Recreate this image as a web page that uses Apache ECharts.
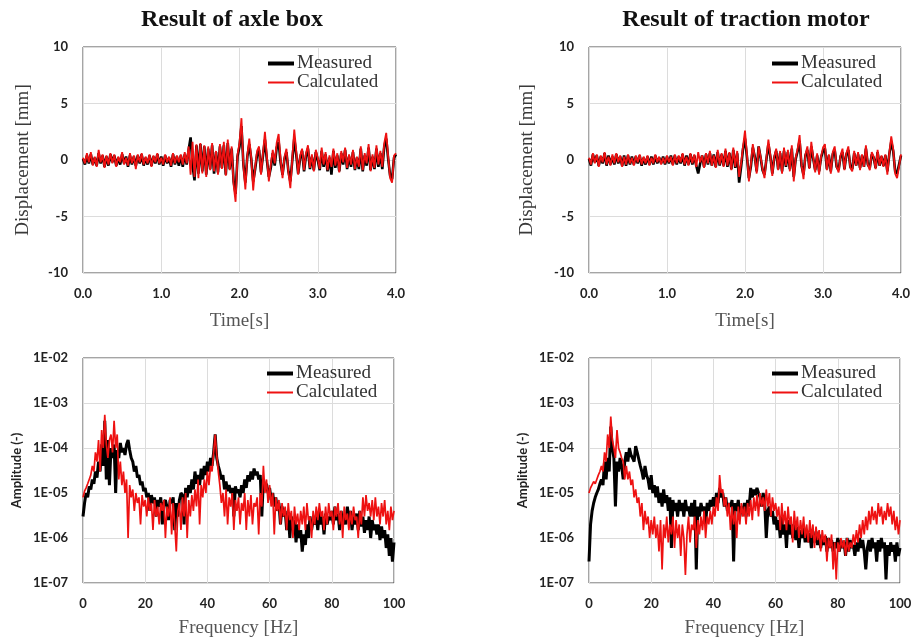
<!DOCTYPE html>
<html>
<head>
<meta charset="utf-8">
<script src="https://cdn.jsdelivr.net/npm/echarts@6/dist/echarts.min.js"></script>
<style>
html,body{margin:0;padding:0;background:#fff;}
#chart{width:916px;height:640px;}
</style>
</head>
<body>
<div id="chart"></div>
<script>
// ---- time axis (s) ----
const time = [
0,0.025,0.05,0.075,0.1,0.125,0.15,0.175,
0.2,0.225,0.25,0.275,0.3,0.325,0.35,0.375,
0.4,0.425,0.45,0.475,0.5,0.525,0.55,0.575,
0.6,0.625,0.65,0.675,0.7,0.725,0.75,0.775,
0.8,0.825,0.85,0.875,0.9,0.925,0.95,0.975,
1,1.025,1.05,1.075,1.1,1.125,1.15,1.175,
1.2,1.225,1.25,1.275,1.3,1.325,1.35,1.375,
1.4,1.425,1.45,1.475,1.5,1.525,1.55,1.575,
1.6,1.625,1.65,1.675,1.7,1.725,1.75,1.775,
1.8,1.825,1.85,1.875,1.9,1.925,1.95,1.975,
2,2.025,2.05,2.075,2.1,2.125,2.15,2.175,
2.2,2.225,2.25,2.275,2.3,2.325,2.35,2.375,
2.4,2.425,2.45,2.475,2.5,2.525,2.55,2.575,
2.6,2.625,2.65,2.675,2.7,2.725,2.75,2.775,
2.8,2.825,2.85,2.875,2.9,2.925,2.95,2.975,
3,3.025,3.05,3.075,3.1,3.125,3.15,3.175,
3.2,3.225,3.25,3.275,3.3,3.325,3.35,3.375,
3.4,3.425,3.45,3.475,3.5,3.525,3.55,3.575,
3.6,3.625,3.65,3.675,3.7,3.725,3.75,3.775,
3.8,3.825,3.85,3.875,3.9,3.925,3.95,3.975,
4];

// ---- axle box displacement (mm) ----
const axleMeasured = [
0.1,-0.4,0.4,-0.3,0.5,-0.4,0.2,-0.5,0.6,-0.3,
0.4,-0.6,0.3,-0.5,0.5,-0.2,0.4,-0.5,0.2,-0.4,
0.5,-0.3,0.3,-0.6,0.4,-0.4,0.3,-0.5,0.4,-0.3,
0.5,-0.5,0.2,-0.4,0.4,-0.5,0.3,-0.3,0.5,-0.4,
0.3,-0.5,0.4,-0.3,0.2,-0.6,0.5,-0.4,0.3,-0.5,
0.4,-0.6,0.5,-0.4,0.9,2.0,-0.5,-1.8,1.3,-1.2,
1.4,-1.0,1.2,-1.3,1.0,-0.8,1.3,-1.2,0.7,-1.1,
1.2,-0.7,1.3,-1.3,1.5,-0.8,1.0,-1.9,-3.0,0.3,
1.2,3.0,-0.4,-2.0,0.3,1.4,0.1,-1.9,-0.8,0.5,
0.9,-1.1,0.4,1.8,0.0,-1.5,-0.7,0.6,-0.5,1.1,
1.6,-0.2,-1.3,0.1,0.7,-1.0,-1.9,0.0,1.9,0.5,
-1.2,0.2,0.8,-1.0,0.4,1.0,-0.8,0.3,-0.9,0.7,
0.0,-0.9,0.8,-0.6,0.5,-1.0,0.2,-1.3,0.8,-0.7,
0.4,-1.0,0.6,-0.4,0.9,-0.8,0.3,-0.6,0.7,-0.9,
0.2,-0.8,1.0,-1.0,0.4,-0.5,1.1,-0.9,0.3,-0.8,
1.0,-0.6,0.6,-0.8,1.2,1.9,0.1,-1.4,-1.7,0.2,0.5];
const axleCalculated = [
0.2,-0.3,0.6,-0.2,0.7,-0.5,0.3,-0.6,0.9,-0.2,
0.5,-0.7,0.4,-0.4,0.6,-0.3,0.5,-0.6,0.3,-0.2,
0.7,-0.4,0.2,-0.5,0.6,-0.3,0.4,-0.8,0.5,-0.2,
0.6,-0.4,0.3,-0.3,0.5,-0.6,0.4,-0.2,0.6,-0.3,
0.2,-0.4,0.5,-0.2,0.3,-0.5,0.6,-0.3,0.4,-0.2,
0.5,-0.4,0.7,-0.3,1.2,-1.3,1.6,-1.5,1.4,-1.6,
1.5,-1.2,1.3,-1.5,1.2,-0.9,1.5,-1.0,0.8,-1.3,
1.4,-0.8,1.6,-1.4,1.8,-0.9,1.2,-2.2,-3.7,0.5,
1.5,3.7,-0.5,-2.6,0.4,1.9,0.2,-2.7,-0.6,0.8,
1.2,-1.3,0.6,2.5,0.3,-1.9,-0.4,0.9,-0.3,1.5,
2.3,0.1,-1.6,0.3,1.0,-1.1,-2.5,0.2,2.7,0.8,
-1.3,0.4,1.0,-0.9,0.6,1.3,-0.7,0.5,-1.0,0.9,
0.2,-0.8,1.1,-0.4,0.7,-0.9,0.4,-0.6,1.0,-0.5,
0.6,-1.1,0.8,-0.2,1.1,-0.7,0.5,-0.4,0.9,-0.8,
0.3,-0.6,1.2,-0.9,0.6,-0.3,1.4,-1.0,0.5,-0.7,
1.3,-0.4,0.8,-0.6,1.5,2.4,0.3,-1.6,-2.0,0.4,0.6];

// ---- traction motor displacement (mm) ----
const motorMeasured = [
0.1,-0.5,0.5,-0.2,0.4,-0.5,0.3,-0.3,0.6,-0.5,
0.4,-0.4,0.3,-0.4,0.5,-0.3,0.3,-0.5,0.4,-0.5,
0.4,-0.4,0.3,-0.4,0.3,-0.3,0.4,-0.5,0.2,-0.4,
0.3,-0.4,0.3,-0.4,0.4,-0.3,0.2,-0.3,0.3,-0.4,
0.3,-0.3,0.4,-0.4,0.4,-0.4,0.3,-0.3,0.5,-0.5,
0.4,-0.4,0.5,-0.4,0.4,-0.5,-1.2,-0.3,0.4,-0.6,
0.5,-0.4,0.6,-0.5,0.5,-0.6,0.7,-0.5,0.5,-0.5,
0.8,-0.6,0.6,-0.8,0.9,-0.7,0.6,-2.0,-0.6,1.0,
1.9,0.3,-1.6,-0.6,1.1,0.3,-1.0,1.2,0.2,-0.9,
-1.3,0.1,1.4,0.3,-1.2,0.2,0.8,-0.8,0.6,-1.0,
0.8,-0.6,0.7,-0.8,1.0,-1.5,0.1,0.8,1.7,-0.5,
-1.3,0.4,0.9,-0.7,1.2,0.1,-0.9,0.4,-1.0,0.2,
0.8,1.0,-0.8,0.4,-1.0,0.5,0.9,-0.6,-0.9,0.3,
0.7,-0.8,0.5,0.9,-0.6,-0.8,0.6,-0.5,0.5,-0.7,
0.4,-0.6,1.0,-0.4,-0.7,0.5,0.2,-0.7,0.7,-0.5,
0.3,-0.5,0.4,-1.0,0.5,1.6,0.8,-1.0,-1.2,-1.1,0.4];
const motorCalculated = [
0.2,-0.4,0.6,-0.3,0.5,-0.6,0.4,-0.2,0.7,-0.4,
0.3,-0.5,0.5,-0.3,0.6,-0.2,0.4,-0.6,0.3,-0.4,
0.5,-0.3,0.2,-0.5,0.4,-0.2,0.5,-0.4,0.3,-0.3,
0.4,-0.5,0.2,-0.3,0.5,-0.2,0.3,-0.4,0.2,-0.3,
0.4,-0.2,0.3,-0.5,0.5,-0.3,0.4,-0.2,0.6,-0.4,
0.3,-0.5,0.6,-0.3,0.5,-0.6,0.7,-0.2,0.4,-0.7,
0.6,-0.3,0.8,-0.5,0.4,-0.7,0.9,-0.4,0.6,-0.6,
1.0,-0.5,0.7,-0.9,1.1,-0.6,0.8,-1.5,-0.3,1.2,
2.6,0.5,-1.9,-0.4,1.4,0.2,-1.2,1.2,0.3,-0.8,
-1.6,0.2,1.8,0.4,-1.4,0.3,1.0,-0.9,0.8,-1.2,
1.1,-0.5,0.9,-1.0,1.3,-1.9,0.2,1.0,2.2,-0.4,
-1.7,0.5,1.2,-0.8,1.6,0.2,-1.1,0.6,-1.3,0.3,
1.1,1.4,-0.9,0.5,-1.2,0.7,1.2,-0.6,-1.1,0.4,
1.0,-0.9,0.6,1.2,-0.7,-1.0,0.8,-0.5,0.7,-0.9,
0.5,-0.6,1.3,-0.4,-0.9,0.7,0.3,-0.8,0.9,-0.5,
0.4,-0.6,0.5,-1.3,0.6,2.1,1.0,-1.2,-1.6,-1.5,0.5];

// ---- frequency axis (Hz) ----
const freq = [
0,0.5,1,1.5,2,2.5,3,3.5,4,4.5,5,5.5,6,6.5,7,7.5,8,8.5,9,9.5,
10,10.5,11,11.5,12,12.5,13,13.5,14,14.5,15,15.5,16,16.5,17,17.5,18,18.5,19,19.5,
20,20.5,21,21.5,22,22.5,23,23.5,24,24.5,25,25.5,26,26.5,27,27.5,28,28.5,29,29.5,
30,30.5,31,31.5,32,32.5,33,33.5,34,34.5,35,35.5,36,36.5,37,37.5,38,38.5,39,39.5,
40,40.5,41,41.5,42,42.5,43,43.5,44,44.5,45,45.5,46,46.5,47,47.5,48,48.5,49,49.5,
50,50.5,51,51.5,52,52.5,53,53.5,54,54.5,55,55.5,56,56.5,57,57.5,58,58.5,59,59.5,
60,60.5,61,61.5,62,62.5,63,63.5,64,64.5,65,65.5,66,66.5,67,67.5,68,68.5,69,69.5,
70,70.5,71,71.5,72,72.5,73,73.5,74,74.5,75,75.5,76,76.5,77,77.5,78,78.5,79,79.5,
80,80.5,81,81.5,82,82.5,83,83.5,84,84.5,85,85.5,86,86.5,87,87.5,88,88.5,89,89.5,
90,90.5,91,91.5,92,92.5,93,93.5,94,94.5,95,95.5,96,96.5,97,97.5,98,98.5,99,99.5,
100];

// ---- axle box amplitude spectra ----
const axleMeasuredSpec = [
3e-6,6e-6,1e-5,8e-6,1.4e-5,1.2e-5,2e-5,1.6e-5,3e-5,2.2e-5,5e-5,3e-5,1.2e-4,4e-5,4e-4,2e-5,1.5e-4,1.5e-5,1e-4,6e-5,
1.2e-4,1e-5,9e-5,6e-5,1.3e-4,8e-5,1e-4,7e-5,1.2e-4,1.5e-4,9e-5,6e-5,5e-5,3e-5,4e-5,2.2e-5,2.5e-5,1.5e-5,1.8e-5,1.1e-5,
1.3e-5,8e-6,1e-5,4e-6,9e-6,6e-6,8e-6,3e-6,7e-6,5e-6,8e-6,2e-6,6e-6,7e-6,5e-6,2.5e-6,7e-6,6e-6,8e-6,1.5e-6,
6e-6,3e-6,7e-6,1e-5,9e-6,2e-6,1.3e-5,8e-6,1.5e-5,1e-5,2e-5,1.2e-5,3e-5,1.6e-5,2.5e-5,1.5e-5,3.5e-5,2e-5,4e-5,2.5e-5,
5e-5,3e-5,6e-5,4e-5,8e-5,2e-4,6e-5,4e-5,3e-5,2e-5,2.5e-5,1.2e-5,1.8e-5,1.1e-5,1.5e-5,1e-5,1.3e-5,3e-6,1.4e-5,1e-5,
1.2e-5,8e-6,1.5e-5,1e-5,2e-5,1.3e-5,2.5e-5,1.8e-5,3e-5,2e-5,3.5e-5,2.5e-5,3e-5,2e-5,2.5e-5,3e-6,2e-5,1.3e-5,1.6e-5,1e-5,
1.3e-5,7e-6,1e-5,5e-6,8e-6,4e-6,6e-6,2e-6,5e-6,3e-6,4e-6,1.5e-6,3.5e-6,1e-6,3e-6,1.5e-6,2.5e-6,8e-7,2e-6,1e-6,
1.5e-6,5e-7,1.2e-6,7e-7,2e-6,1e-6,3e-6,1.5e-6,2.5e-6,2e-6,3e-6,1.5e-6,4e-6,2e-6,3e-6,1.2e-6,3.5e-6,2e-6,3e-6,2.5e-6,
4e-6,2e-6,5e-6,2.5e-6,3.5e-6,1.5e-6,4e-6,2e-6,3e-6,2e-6,5e-6,2.5e-6,4e-6,1.5e-6,3e-6,2e-6,3.5e-6,1.5e-6,4e-6,1.8e-6,
3e-6,1.3e-6,2.5e-6,1.5e-6,3e-6,1e-6,2.5e-6,1.5e-6,2e-6,1.2e-6,2e-6,9e-7,1.8e-6,1e-6,1.5e-6,6e-7,1.2e-6,4e-7,1e-6,3e-7,
8e-7];
const axleCalculatedSpec = [
8e-6,1.1e-5,1.3e-5,1.6e-5,2e-5,2.5e-5,4e-5,3e-5,8e-5,5e-5,1.5e-4,3e-5,2.5e-4,1e-4,5.5e-4,1.2e-4,6e-5,1.5e-4,2e-4,8e-5,
4e-4,1e-4,2e-4,2e-5,5e-5,1.5e-5,3e-5,1e-5,2e-5,1e-6,1.5e-5,8e-6,1.2e-5,4e-6,1e-5,6e-6,8e-6,2e-6,9e-6,5e-6,
7e-6,3e-6,8e-6,4e-6,6e-6,1.5e-6,7e-6,3e-6,5e-6,2e-6,6e-6,4e-6,7e-6,1e-6,5e-6,3e-6,8e-6,1.2e-6,6e-6,2e-6,
5e-7,4e-6,6e-6,1.5e-6,8e-6,3e-6,1e-5,1e-6,7e-6,3e-6,9e-6,4e-6,1.2e-5,5e-6,2e-5,2e-6,1.5e-5,8e-6,2e-5,1e-5,
3e-5,1.5e-5,4e-5,3e-5,8e-5,2e-4,7e-5,3e-5,1.5e-5,6e-6,1e-5,3e-6,1.2e-5,2e-6,8e-6,5e-6,1e-5,1.5e-6,7e-6,4e-6,
8e-6,2e-6,6e-6,4e-6,1e-5,1.5e-6,7e-6,3e-6,9e-6,2e-6,6e-6,5e-6,8e-6,1.2e-6,1e-5,5e-6,4e-5,1e-5,2e-5,6e-6,
1.5e-5,5e-6,1e-5,1.2e-6,8e-6,4e-6,7e-6,2e-6,6e-6,3e-6,5e-6,1.5e-6,6e-6,2.5e-6,4e-6,1e-6,5e-6,2e-6,3.5e-6,1.5e-6,
4e-6,2e-6,5e-6,1.5e-6,6e-6,2.5e-6,3e-6,1e-6,4e-6,2e-6,5e-6,2.5e-6,6e-6,3e-6,4e-6,1.5e-6,5e-6,2e-6,6e-6,3e-6,
4e-6,1.5e-6,5e-6,3e-6,6e-6,2e-6,4e-6,1e-6,5e-6,2.5e-6,3.5e-6,1.5e-6,4e-6,2e-6,5e-6,2.5e-6,3e-6,1e-6,4e-6,2e-6,
8e-6,3e-6,9e-6,4e-6,6e-6,3e-6,7e-6,2.5e-6,8e-6,3e-6,5e-6,2e-6,6e-6,3e-6,7e-6,2e-6,4e-6,1.5e-6,5e-6,2.5e-6,
4e-6];

// ---- traction motor amplitude spectra ----
const motorMeasuredSpec = [
3e-7,2e-6,4e-6,6e-6,8e-6,1e-5,1.2e-5,1.6e-5,2e-5,1.5e-5,5e-5,2e-5,6e-5,3e-5,3e-4,1e-4,6e-5,5e-6,5e-5,3e-5,
6e-5,4e-5,2e-5,5e-5,8e-5,5e-5,1e-4,7e-5,6e-5,5e-5,1.1e-4,8e-5,8e-5,4e-5,3e-5,2e-5,4e-5,2.5e-5,2e-5,1.2e-5,
2.5e-5,1e-5,1.5e-5,8e-6,1.4e-5,6e-6,1e-5,5e-6,1.2e-5,6e-6,9e-6,4e-6,8e-6,6e-7,7e-6,4e-6,6e-6,3e-6,7e-6,4e-6,
6e-6,3e-6,7e-6,4e-6,5e-6,3e-6,6e-6,3e-6,7e-6,2e-7,5e-6,3e-6,6e-6,4e-6,5e-6,2e-6,6e-6,4e-6,7e-6,5e-6,
8e-6,5e-6,1e-5,6e-6,1.3e-5,8e-6,1e-5,5e-6,8e-6,4e-6,6e-6,5e-6,7e-6,3e-7,6e-6,4e-6,7e-6,3e-6,5e-6,4e-6,
6e-6,3e-6,7e-6,5e-6,1.3e-5,8e-6,1.2e-5,9e-6,1.3e-5,1e-5,8e-6,5e-6,1e-5,6e-6,1e-6,4e-6,5e-6,3e-6,4e-6,2e-6,
3e-6,1.5e-6,2.5e-6,1e-6,3e-6,1.2e-6,2e-6,6e-7,2.5e-6,1.2e-6,2e-6,1e-6,2e-6,9e-7,1.8e-6,6e-7,1.5e-6,1e-6,1.8e-6,8e-7,
1.5e-6,8e-7,1.3e-6,6e-7,1.2e-6,8e-7,1.4e-6,7e-7,1.2e-6,6e-7,1e-6,7e-7,1.1e-6,5e-7,1e-6,6e-7,9e-7,5e-7,8e-7,6e-7,
1e-6,5e-7,9e-7,6e-7,8e-7,4e-7,1e-6,5e-7,9e-7,6e-7,7e-7,4e-7,8e-7,5e-7,1e-6,6e-7,9e-7,5e-7,2e-7,6e-7,
9e-7,5e-7,1e-6,6e-7,8e-7,3e-7,9e-7,5e-7,1e-6,6e-7,8e-7,1.2e-7,7e-7,4e-7,8e-7,5e-7,7e-7,3e-7,8e-7,4e-7,
6e-7];
const motorCalculatedSpec = [
1e-5,1.3e-5,1.4e-5,1.8e-5,1.6e-5,2e-5,2.5e-5,3e-5,4e-5,3e-5,8e-5,5e-5,2e-4,1e-4,5e-4,1.5e-4,1e-4,6e-5,2.5e-4,1e-4,
8e-5,6e-5,5e-5,2e-5,4e-5,2e-5,3e-5,1.5e-5,2e-5,8e-6,1.2e-5,6e-6,8e-6,3e-6,6e-6,1.5e-6,4e-6,2e-6,3e-6,1e-6,
2.5e-6,1.2e-6,3e-6,1e-6,2e-6,5e-7,2.5e-6,2e-7,2e-6,1e-6,3e-6,8e-7,2e-6,1.2e-6,3e-6,6e-7,2.5e-6,1e-6,2e-6,4e-7,
2e-6,1e-6,1.5e-7,1.2e-6,3e-6,8e-7,2e-6,1.5e-6,3e-6,6e-7,2.5e-6,1.2e-6,3e-6,1.5e-6,4e-6,1e-6,3e-6,2e-6,4e-6,2e-6,
5e-6,3e-6,8e-6,4e-6,2.5e-5,1e-5,1.2e-5,5e-6,8e-6,3e-6,6e-6,1.5e-6,5e-6,2e-6,4e-6,1e-6,5e-6,2e-6,6e-6,3e-6,
5e-6,2e-6,6e-6,3e-6,7e-6,2.5e-6,8e-6,4e-6,9e-6,3e-6,1e-5,5e-6,8e-6,4e-6,1.2e-5,5e-6,1e-5,3e-6,8e-6,4e-6,
6e-6,3e-6,5e-6,1.5e-6,6e-6,2e-6,4e-6,1.5e-6,5e-6,2e-6,3e-6,8e-7,4e-6,1.5e-6,3e-6,1e-6,2.5e-6,1.2e-6,3e-6,1e-6,
2e-6,8e-7,2.5e-6,1e-6,2e-6,6e-7,1.8e-6,9e-7,1.5e-6,5e-7,1.5e-6,8e-7,1.2e-6,3e-7,1e-6,6e-7,1.2e-6,2e-7,8e-7,1.2e-7,
8e-7,5e-7,1e-6,6e-7,9e-7,4e-7,1e-6,5e-7,8e-7,6e-7,1.2e-6,7e-7,1.5e-6,8e-7,2e-6,1e-6,2.5e-6,1.2e-6,3e-6,1.5e-6,
4e-6,2e-6,5e-6,2.5e-6,4e-6,2e-6,6e-6,3e-6,5e-6,2e-6,4e-6,2.5e-6,6e-6,3e-6,5e-6,2e-6,4e-6,1.5e-6,3e-6,1.2e-6,
2.5e-6];

const titles = ['Result of axle box', 'Result of traction motor'];
const seriesNames = ['Measured', 'Calculated'];

function zip(xs, ys) {
  const n = Math.min(xs.length, ys.length);
  const out = [];
  for (let i = 0; i < n; i++) out.push([xs[i], ys[i]]);
  return out;
}

const tickFont = {fontFamily: "Lato,'Open Sans',sans-serif", fontWeight: 'bold', fontSize: 13, color: '#222'};
const serifFam = "'Liberation Serif','DejaVu Serif',serif";
const serifName = {fontFamily: serifFam, fontSize: 19, color: '#3a3a3a'};
const gridLine = {show: true, lineStyle: {color: '#dcdcdc', width: 1}};
const RED = '#ee1111';

const grids = [
  {left: 83, top: 47, width: 313, height: 226},
  {left: 589, top: 47, width: 312, height: 226},
  {left: 83, top: 358, width: 311, height: 225},
  {left: 589, top: 358, width: 311, height: 225}
].map(g => Object.assign({show: true, borderColor: '#4a4a4a', borderWidth: 1, backgroundColor: '#fff'}, g));

function timeX(gi) {
  return {type: 'value', gridIndex: gi, min: 0, max: 4, interval: 1,
    axisLine: {show: false}, axisTick: {show: false}, splitLine: gridLine,
    axisLabel: Object.assign({margin: 14, formatter: v => v.toFixed(1)}, tickFont),
    name: 'Time[s]', nameLocation: 'middle', nameGap: 39,
    nameTextStyle: Object.assign({}, serifName, {fontSize: 19, color: '#555'})};
}
function freqX(gi) {
  return {type: 'value', gridIndex: gi, min: 0, max: 100, interval: 20,
    axisLine: {show: false}, axisTick: {show: false}, splitLine: gridLine,
    axisLabel: Object.assign({margin: 14}, tickFont),
    name: 'Frequency [Hz]', nameLocation: 'middle', nameGap: 36,
    nameTextStyle: Object.assign({}, serifName, {fontSize: 19, color: '#555'})};
}
function dispY(gi, gap) {
  return {type: 'value', gridIndex: gi, min: -10, max: 10, interval: 5,
    axisLine: {show: false}, axisTick: {show: false}, splitLine: gridLine,
    axisLabel: Object.assign({margin: 15}, tickFont),
    name: 'Displacement [mm]', nameLocation: 'middle', nameGap: gap,
    nameTextStyle: serifName};
}
function ampY(gi) {
  return {type: 'log', logBase: 10, gridIndex: gi, min: 1e-7, max: 1e-2, interval: 1,
    axisLine: {show: false}, axisTick: {show: false}, splitLine: gridLine,
    axisLabel: Object.assign({margin: 15, formatter: v => {
      const e = Math.round(Math.log10(v));
      return '1E-' + String(-e).padStart(2, '0');
    }}, tickFont),
    name: 'Amplitude (-)', nameLocation: 'middle', nameGap: 60,
    nameTextStyle: Object.assign({}, tickFont, {fontSize: 13, color: '#222'})};
}

const ICON_THICK = 'path://M0,0L0,0M0,5L26,5L26,9L0,9ZM26,14L26,14';
const ICON_THIN = 'path://M0,0L0,0M0,6L26,6L26,8L0,8ZM26,14L26,14';

function legendAt(left, top) {
  return {orient: 'vertical', left: left, top: top, padding: 0, itemWidth: 26, itemHeight: 14, itemGap: 0,
    selectedMode: false,
    textStyle: {fontFamily: serifFam, fontSize: 19, color: '#333', padding: [0, 0, 0, -2]},
    data: [
      {name: seriesNames[0], icon: ICON_THICK, itemStyle: {color: '#000', borderWidth: 0}},
      {name: seriesNames[1], icon: ICON_THIN, itemStyle: {color: RED, borderWidth: 0}}
    ]};
}

function pair(gi, xs, meas, calc, wBlack, wRed) {
  return [
    {name: seriesNames[0], type: 'line', xAxisIndex: gi, yAxisIndex: gi, data: zip(xs, meas),
      symbol: 'none', lineStyle: {color: '#000', width: wBlack}, itemStyle: {color: '#000'}, z: 2},
    {name: seriesNames[1], type: 'line', xAxisIndex: gi, yAxisIndex: gi, data: zip(xs, calc),
      symbol: 'none', lineStyle: {color: RED, width: wRed}, itemStyle: {color: RED}, z: 3}
  ];
}

const titleStyle = {fontFamily: serifFam, fontWeight: 'bold', fontSize: 24, color: '#111'};

const option = {
  animation: false,
  backgroundColor: '#fff',
  title: [
    {text: titles[0], left: 232, top: 8, textAlign: 'center', padding: 0, textStyle: titleStyle},
    {text: titles[1], left: 746, top: 8, textAlign: 'center', padding: 0, textStyle: titleStyle}
  ],
  legend: [legendAt(268, 54), legendAt(772, 54), legendAt(267, 364), legendAt(772, 364)],
  grid: grids,
  xAxis: [timeX(0), timeX(1), freqX(2), freqX(3)],
  yAxis: [dispY(0, 50), dispY(1, 52), ampY(2), ampY(3)],
  series: [].concat(
    pair(0, time, axleMeasured, axleCalculated, 2.6, 1.8),
    pair(1, time, motorMeasured, motorCalculated, 2.6, 1.8),
    pair(2, freq, axleMeasuredSpec, axleCalculatedSpec, 3, 1.7),
    pair(3, freq, motorMeasuredSpec, motorCalculatedSpec, 3, 1.7)
  )
};

const chart = echarts.init(document.getElementById('chart'), null, {renderer: 'canvas'});
chart.setOption(option);
</script>
</body>
</html>
